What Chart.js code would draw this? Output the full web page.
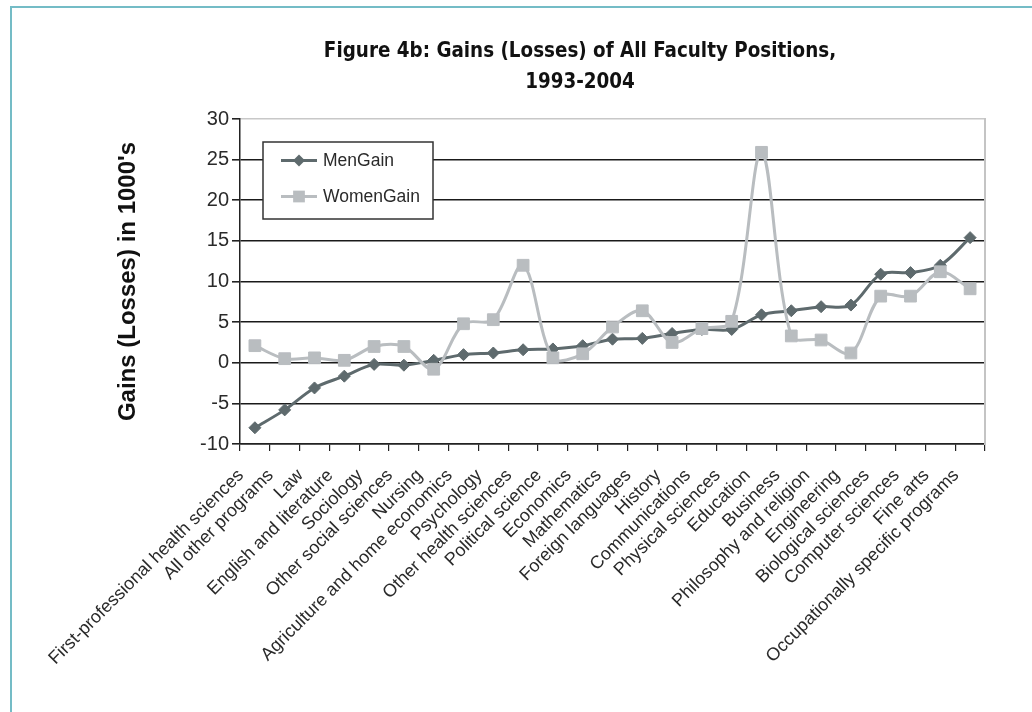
<!DOCTYPE html>
<html>
<head>
<meta charset="utf-8">
<script src="https://cdn.jsdelivr.net/npm/chart.js@4.4.1/dist/chart.umd.min.js"></script>
<style>
  html, body { margin: 0; padding: 0; background: #ffffff; }
  #wrap { position: relative; width: 1032px; height: 712px; }
  #frame { position: absolute; left: 10px; top: 6px; right: -4px; bottom: -4px;
           border-left: 2px solid #74bcc6; border-top: 2px solid #74bcc6; pointer-events: none; }
</style>
</head>
<body>
<div id="wrap">
  <canvas id="c" width="1032" height="712"></canvas>
  <div id="frame"></div>
</div>
<script>
const categories = [
  "First-professional health sciences", "All other programs", "Law", "English and literature",
  "Sociology", "Other social sciences", "Nursing", "Agriculture and home economics",
  "Psychology", "Other health sciences", "Political science", "Economics", "Mathematics",
  "Foreign languages", "History", "Communications", "Physical sciences", "Education",
  "Business", "Philosophy and religion", "Engineering", "Biological sciences",
  "Computer sciences", "Fine arts", "Occupationally specific programs"
];
const menGain = [-8.0, -5.8, -3.1, -1.65, -0.2, -0.3, 0.3, 1.0, 1.2, 1.6, 1.7, 2.1, 2.9,
                 3.0, 3.6, 4.1, 4.1, 5.9, 6.4, 6.9, 7.1, 10.9, 11.1, 12.0, 15.4];
const womenGain = [2.1, 0.5, 0.6, 0.3, 2.0, 2.0, -0.8, 4.8, 5.3, 12.0, 0.6, 1.1, 4.4,
                   6.4, 2.5, 4.2, 5.1, 25.9, 3.3, 2.8, 1.2, 8.2, 8.2, 11.2, 9.1];
const seriesNames = ["MenGain", "WomenGain"];
const yMin = -10, yMax = 30, yStep = 5;
const titleLines = ["Figure 4b: Gains (Losses) of All Faculty Positions,", "1993-2004"];
const yAxisTitle = "Gains (Losses) in 1000's";

const MEN_COLOR = "#5e6a6d";
const WOMEN_COLOR = "#b9bdc0";
const TEXT = "#2a2a2a";
const SANS = "'Liberation Sans', Arial, sans-serif";

const insideLegend = {
  id: "insideLegend",
  afterDraw(chart) {
    const ctx = chart.ctx;
    const x0 = 263, y0 = 142, w = 170, h = 77;
    ctx.save();
    ctx.fillStyle = "#ffffff";
    ctx.fillRect(x0, y0, w, h);
    ctx.strokeStyle = "#333333";
    ctx.lineWidth = 1.5;
    ctx.strokeRect(x0, y0, w, h);
    chart.data.datasets.forEach((ds, i) => {
      const cy = 160.5 + i * 36;
      ctx.strokeStyle = ds.borderColor;
      ctx.lineWidth = 3;
      ctx.beginPath();
      ctx.moveTo(281, cy);
      ctx.lineTo(317, cy);
      ctx.stroke();
      ctx.fillStyle = ds.backgroundColor;
      ctx.beginPath();
      if (ds.pointStyle === "rectRot") {
        const r = ds.pointRadius;
        ctx.moveTo(299, cy - r); ctx.lineTo(299 + r, cy); ctx.lineTo(299, cy + r); ctx.lineTo(299 - r, cy); ctx.closePath();
      } else {
        const s = ds.pointRadius * Math.SQRT1_2;
        ctx.rect(299 - s, cy - s, 2 * s, 2 * s);
      }
      ctx.fill();
      ctx.fillStyle = TEXT;
      ctx.font = "17.5px " + SANS;
      ctx.textBaseline = "middle";
      ctx.textAlign = "left";
      ctx.fillText(ds.label, 323, cy + 1);
    });
    ctx.restore();
  }
};

new Chart(document.getElementById("c"), {
  type: "line",
  data: {
    labels: categories,
    datasets: [
      {
        label: seriesNames[0], data: menGain, order: 1,
        borderColor: MEN_COLOR, backgroundColor: MEN_COLOR, borderWidth: 3,
        pointStyle: "rectRot", pointRadius: 6, pointBorderWidth: 1,
        pointBackgroundColor: MEN_COLOR, pointBorderColor: MEN_COLOR,
        tension: 0.33, fill: false
      },
      {
        label: seriesNames[1], data: womenGain, order: 0,
        borderColor: WOMEN_COLOR, backgroundColor: WOMEN_COLOR, borderWidth: 3,
        pointStyle: "rect", pointRadius: 8.3, pointBorderWidth: 1,
        pointBackgroundColor: WOMEN_COLOR, pointBorderColor: WOMEN_COLOR,
        tension: 0.33, fill: false
      }
    ]
  },
  options: {
    responsive: false,
    animation: false,
    layout: { padding: { left: 175, right: 47, top: 0, bottom: 0 } },
    plugins: {
      legend: { display: false },
      tooltip: { enabled: false },
      title: {
        display: true,
        text: titleLines,
        color: "#111111",
        font: { family: "'DejaVu Sans Condensed', 'DejaVu Sans', sans-serif", size: 20.4, weight: "bold", lineHeight: 1.52 },
        padding: { top: 36, bottom: 21 }
      }
    },
    scales: {
      x: {
        offset: true,
        grid: { offset: true, drawOnChartArea: false, drawTicks: true, tickLength: 7, color: "#222222", lineWidth: 1.2 },
        border: { color: "#222222", width: 1.5 },
        ticks: {
          autoSkip: false, maxRotation: 45, minRotation: 45, padding: 14, labelOffset: -14,
          color: TEXT, font: { family: SANS, size: 18 }
        },
        afterFit(scale) { scale.height = 268; }
      },
      y: {
        min: yMin, max: yMax,
        ticks: { stepSize: yStep, color: TEXT, padding: 3, font: { family: SANS, size: 20 } },
        grid: {
          color: (c) => (c.tick && c.tick.value === yMax) ? "#c8c8c8" : "#1a1a1a",
          lineWidth: 1.6, tickLength: 8, tickColor: "#222222", drawTicks: true
        },
        border: { color: "#222222", width: 1.5 },
        title: {
          display: true, text: yAxisTitle, color: "#111111",
          font: { family: SANS, size: 24, weight: "bold", lineHeight: 1.2 },
          padding: { top: -61.5, bottom: 0 }
        },
        afterFit(scale) { scale.width = 65; }
      },
      yRight: {
        position: "right", min: yMin, max: yMax,
        ticks: { display: false },
        grid: { drawOnChartArea: false, drawTicks: false },
        border: { color: "#c4c4c4", width: 2 },
        afterFit(scale) { scale.width = 0; }
      }
    }
  },
  plugins: [insideLegend]
});
</script>
</body>
</html>
